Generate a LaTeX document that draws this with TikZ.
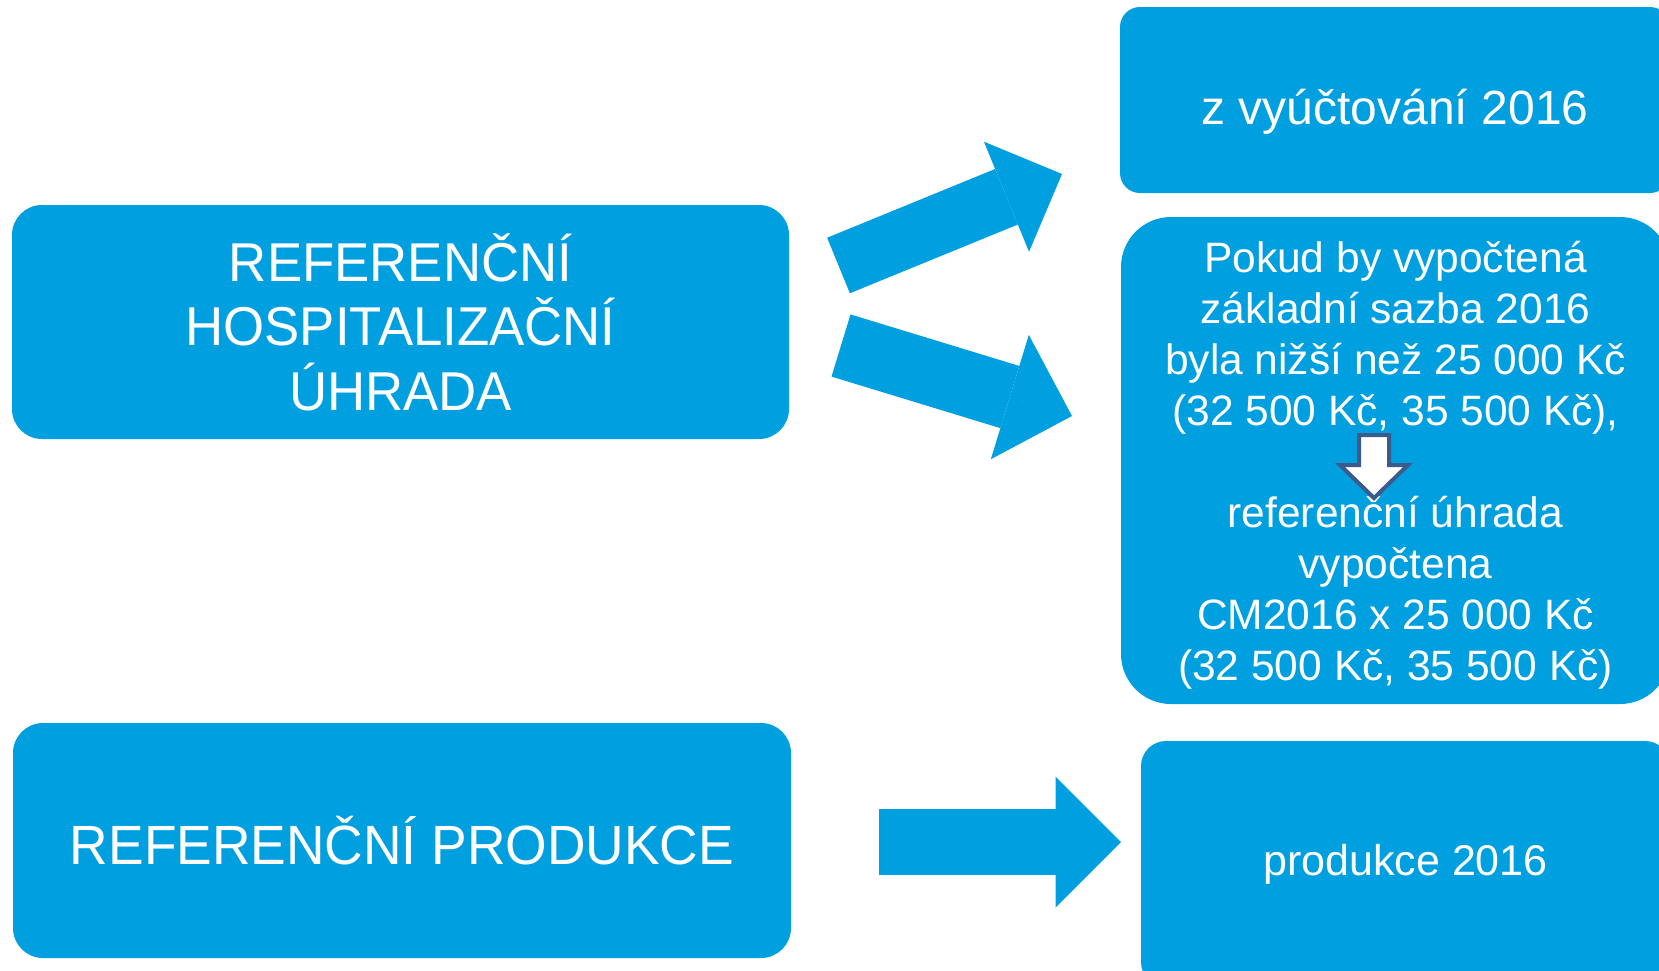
\documentclass[tikz,border=0pt]{standalone}
\usepackage{fontspec}
\setmainfont{Liberation Sans}
\newfontfamily\narrowfont{Liberation Sans}[FakeStretch=0.965]
\usetikzlibrary{arrows.meta}
\definecolor{boxblue}{RGB}{0,159,223}
\definecolor{arrowrim}{RGB}{60,90,140}

\begin{document}
\begin{tikzpicture}[x=1pt, y=-1pt,
  every node/.style={inner sep=0pt, text=white, align=center},
  bigarrow/.style 2 args={draw=boxblue, line width=#1, -{Triangle[length=#1, width=#2, line width=0pt]}},
  downarrow/.style={draw=arrowrim, fill=white, line width=4pt, line join=miter}]
\useasboundingbox (0,0) rectangle (1659,970);
\clip (0,0) rectangle (1659,970);

\begin{scope}[every node/.style={inner sep=0pt, text=white, align=center, fill=boxblue, rounded corners=30pt}]
\node[minimum width=777pt, minimum height=234pt, font=\narrowfont\fontsize{54.7pt}{64.5pt}\selectfont] (hosp) at (400.5,322) {REFERENČNÍ\\HOSPITALIZAČNÍ\\ÚHRADA};
\node[minimum width=778pt, minimum height=235pt, font=\narrowfont\fontsize{55.3pt}{64pt}\selectfont] (prod) at (402,840.5) {REFERENČNÍ PRODUKCE};
\end{scope}

\begin{scope}[every node/.style={inner sep=0pt, text=white, align=center, fill=boxblue}]
\node[minimum width=550pt, minimum height=186pt, rounded corners=20pt, text height=48pt, text depth=0pt, font=\fontsize{48pt}{55pt}\selectfont] (vyuct) at (1395,100) {z vyúčtování 2016};
\node[minimum width=549pt, minimum height=487pt, rounded corners=50pt] (sazba) at (1395.5,460.5) {};
\node[minimum width=529pt, minimum height=246pt, rounded corners=25pt, font=\fontsize{43pt}{50pt}\selectfont] (prod16) at (1405.5,864) {produkce 2016};
\end{scope}

\node[font=\fontsize{42.5pt}{51pt}\selectfont, yshift=-5pt] (sazbatext) at (sazba.center) {Pokud by vypočtená\\základní sazba 2016\\byla nižší než 25 000 Kč\\(32 500 Kč, 35 500 Kč),\\[51pt]referenční úhrada\\vypočtena\\CM2016 x 25 000 Kč\\(32 500 Kč, 35 500 Kč)};

% block arrows between the boxes
\coordinate (H1) at (838.5,265.5);
\coordinate (V1) at (1062,174);
\coordinate (H2) at (841,345.5);
\coordinate (S1) at (1072,416);
\coordinate (P1) at (879,842);
\coordinate (Q1) at (1121,842);

\draw[bigarrow={60pt}{119pt}] (H1) -- (V1);
\draw[bigarrow={65pt}{130pt}] (H2) -- (S1);
\draw[bigarrow={65.5pt}{131pt}] (P1) -- (Q1);

% small arrow inside the right box
\coordinate (D) at (1374,435);
\draw[downarrow] (D) ++(-15,0) -- ++(30,0) -- ++(0,30) -- ++(19,0) -- ++(-34,33) -- ++(-34,-33) -- ++(19,0) -- cycle;

\end{tikzpicture}
\end{document}
